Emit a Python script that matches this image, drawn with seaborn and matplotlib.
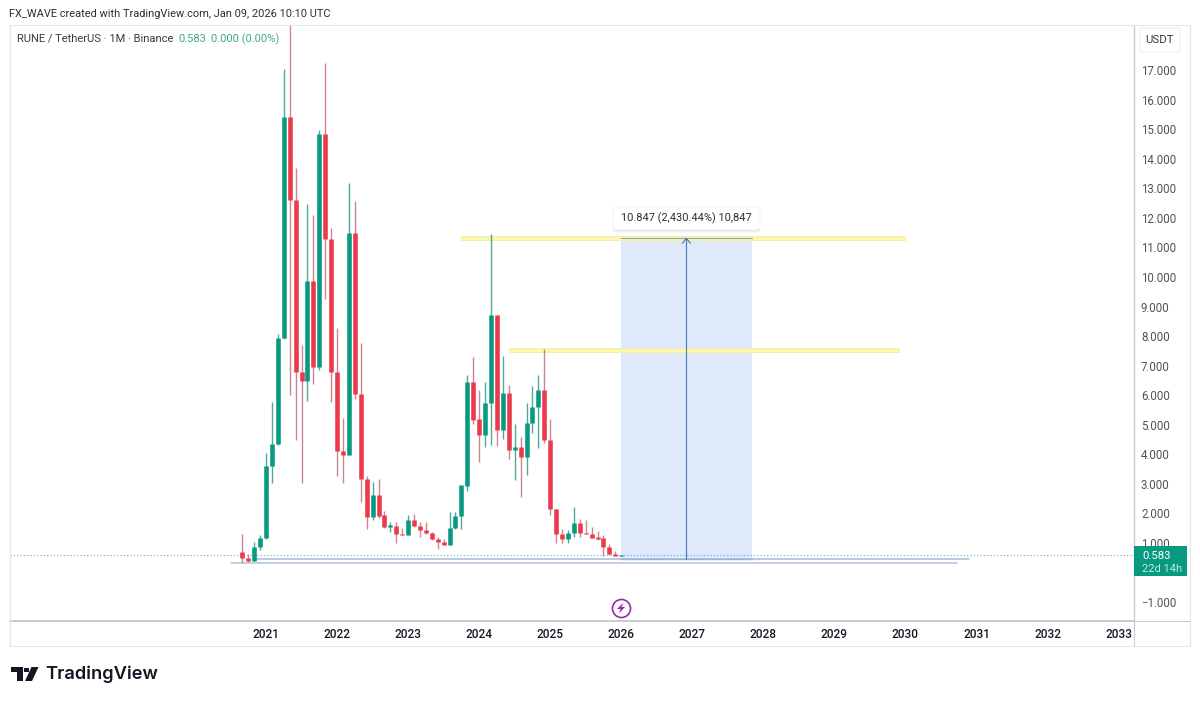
import matplotlib
matplotlib.use('Agg')
from matplotlib import pyplot as plt
from matplotlib.lines import Line2D
from matplotlib.patches import FancyBboxPatch, Polygon, Rectangle
import pandas as pd
import seaborn as sns

# monthly candles, Sep 2020 to Jan 2026
opens = [0.70, 0.48, 0.40, 0.85, 1.17, 3.60, 4.36, 7.94, 15.40, 12.60, 6.78, 6.48, 9.86, 6.96,
         14.84, 11.29, 6.80, 4.12, 3.99, 11.47, 6.04, 3.16, 1.87, 2.62, 1.94, 1.55, 1.58, 1.30,
         1.27, 1.78, 1.57, 1.44, 1.35, 1.14, 1.04, 0.94, 1.50, 1.92, 2.93, 6.45, 5.18, 4.64,
         5.74, 8.71, 4.82, 6.08, 4.15, 4.24, 3.91, 5.07, 5.61, 6.18, 4.48, 2.14, 1.30, 1.14,
         1.35, 1.66, 1.35, 1.32, 1.21, 1.16, 0.87, 0.64, 0.57]
closes = [0.48, 0.40, 0.85, 1.17, 3.60, 4.36, 7.94, 15.40, 12.60, 6.78, 6.48, 9.86, 6.96, 14.84,
          11.29, 6.80, 4.12, 3.99, 11.47, 6.04, 3.16, 1.87, 2.62, 1.91, 1.55, 1.60, 1.30, 1.28,
          1.78, 1.56, 1.44, 1.33, 1.12, 1.02, 0.94, 1.50, 1.92, 2.95, 6.45, 5.16, 4.64, 5.74,
          8.71, 4.82, 6.08, 4.15, 4.25, 3.91, 5.07, 5.61, 6.18, 4.48, 2.14, 1.29, 1.13, 1.34,
          1.66, 1.35, 1.31, 1.18, 1.13, 0.85, 0.63, 0.57, 0.583]
highs = [1.29, 0.63, 1.04, 1.28, 4.03, 5.78, 8.06, 17.04, 18.60, 13.70, 7.70, 12.47, 12.09, 14.97,
         17.25, 11.65, 8.26, 5.22, 13.19, 12.56, 7.78, 3.28, 3.05, 3.16, 2.09, 1.72, 1.72, 1.49,
         1.95, 1.98, 1.70, 1.71, 1.38, 1.21, 1.12, 2.04, 2.04, 2.97, 6.69, 7.30, 6.18, 6.44,
         11.46, 8.72, 7.34, 6.35, 5.03, 4.58, 5.73, 6.32, 6.68, 7.56, 5.19, 2.14, 1.46, 1.44,
         2.21, 1.80, 1.78, 1.53, 1.40, 1.27, 0.95, 0.72, 0.60]
lows = [0.33, 0.37, 0.38, 0.76, 1.15, 3.04, 4.33, 7.90, 6.00, 4.48, 3.02, 5.80, 6.38, 6.85,
        9.24, 5.76, 3.28, 3.04, 3.97, 5.86, 2.38, 1.46, 1.78, 1.83, 1.52, 1.38, 1.01, 1.27,
        1.26, 1.55, 1.19, 1.30, 1.10, 0.79, 0.93, 0.93, 1.46, 1.48, 2.77, 5.03, 3.75, 4.24,
        4.31, 4.29, 4.51, 3.83, 3.13, 2.57, 3.30, 4.72, 4.22, 4.39, 1.95, 0.99, 1.01, 0.99,
        1.21, 1.19, 1.30, 1.18, 1.10, 0.56, 0.60, 0.55, 0.56]

year_labels = ['2021', '2022', '2023', '2024', '2025', '2026', '2027',
               '2028', '2029', '2030', '2031', '2032', '2033']
year_months = [4, 16, 28, 40, 52, 64, 76, 88, 100, 112, 124, 136, 148]
price_ticks = [-1, 1, 2, 3, 4, 5, 6, 7, 8, 9, 10, 11, 12, 13, 14, 15, 16, 17]
last_price = 0.583
upper_level = 11.32
middle_level = 7.53
base_upper = 0.457
base_lower = 0.332
measure_low = 0.458
measure_high = 11.305

GREEN = '#089981'
RED = '#ec3a4c'
TEXT = '#50535e'
BORDER = '#e4e6ea'
AXIS = '#c9cbd0'
PURPLE = '#9c27b0'

rows_wick = []
rows_body = []
for i in range(len(opens)):
    direction = 'up' if closes[i] >= opens[i] else 'down'
    rows_wick.append([i, i, lows[i], direction])
    rows_wick.append([i, i, highs[i], direction])
    rows_body.append([i, i, opens[i], direction])
    rows_body.append([i, i, closes[i], direction])
df_wick = pd.DataFrame(rows_wick, columns=['candle', 'month', 'price', 'direction'])
df_body = pd.DataFrame(rows_body, columns=['candle', 'month', 'price', 'direction'])

sns.set_style('white')
plt.rcParams['font.family'] = ['Roboto', 'DejaVu Sans']


def px(x, y):
    return x / 1200, 1 - y / 702


fig = plt.figure(figsize=(12, 7.02), dpi=100, facecolor='white')
ax = fig.add_axes([10 / 1200, 1 - 621 / 702, 1124 / 1200, 595 / 702])

# measure box and drawings go under the candles
ax.add_patch(Rectangle((64, measure_low), 22, measure_high - measure_low, fc='#deeafc', ec='none', zorder=1))
ax.add_patch(Rectangle((36.9, upper_level - 0.06), 75, 0.12, fc='#fbf7ae', ec='#f5ee9a', lw=0.6, zorder=1.7))
ax.add_patch(Rectangle((45, middle_level - 0.06), 65.9, 0.12, fc='#fbf7ae', ec='#f5ee9a', lw=0.6, zorder=1.7))
ax.plot([64, 86], [measure_high, measure_high], color='#8f9fb5', lw=0.8, zorder=1.8)
ax.plot([64, 86], [measure_low, measure_low], color='#6f8fc9', lw=0.9, zorder=1.8)
ax.plot([75, 75], [measure_low, measure_high], color='#4a74b4', lw=0.8, zorder=2)
ax.plot([74.3, 75, 75.7], [measure_high - 0.17, measure_high, measure_high - 0.17], color='#4a74b4', lw=0.8, zorder=2)

ax.plot([2.1, 122.7], [base_upper, base_upper], color='#a8bbd8', lw=1.1, zorder=1.8)
ax.plot([-1.9, 120.7], [base_lower, base_lower], color='#b3c4de', lw=1.1, zorder=1.8)
ax.axhline(last_price, color='#5fb8a6', lw=0.8, ls=(0, (1, 2)), zorder=1.9)

sns.lineplot(data=df_wick, x='month', y='price', units='candle', hue='direction', estimator=None,
             sort=False, palette={'up': '#4fa898', 'down': '#cc8592'}, linewidth=1.0,
             solid_capstyle='butt', legend=False, ax=ax, zorder=3)
sns.lineplot(data=df_body, x='month', y='price', units='candle', hue='direction', estimator=None,
             sort=False, palette={'up': GREEN, 'down': RED}, linewidth=3.3,
             solid_capstyle='butt', legend=False, ax=ax, zorder=4)

ax.set_xlim(-39.24, 150.6)
ax.set_ylim(-1.64, 18.49)
ax.set_xlabel('')
ax.set_ylabel('')
ax.set_xticks(year_months)
ax.set_xticklabels(year_labels, fontsize=8.6, fontweight='medium', color='#131722')
ax.yaxis.tick_right()
ax.set_yticks(price_ticks)
ax.set_yticklabels([f'{v:.3f}'.replace('-', '\u2212') for v in price_ticks], fontsize=8.3, color=TEXT)
ax.tick_params(axis='x', length=0, pad=5)
ax.tick_params(axis='y', length=0, pad=5)
sns.despine(ax=ax, left=True, top=True, right=False, bottom=False)
ax.spines['right'].set_color(AXIS)
ax.spines['bottom'].set_color(AXIS)
ax.spines['right'].set_linewidth(1.0)
ax.spines['bottom'].set_linewidth(1.4)

# outer frame of the chart
for a, b, col in [((9.5, 25), (1190, 25), BORDER), ((9.5, 25), (9.5, 646), BORDER),
                  ((9.5, 646), (1190, 646), BORDER), ((1190, 25), (1190, 646), BORDER),
                  ((1134, 621), (1134, 646), AXIS), ((1134, 621), (1190, 621), AXIS)]:
    fig.add_artist(Line2D([px(*a)[0], px(*b)[0]], [px(*a)[1], px(*b)[1]], color=col, lw=0.8))

fig.text(*px(9, 14), 'FX_WAVE created with TradingView.com, Jan 09, 2026 10:10 UTC',
         fontsize=7.95, color='#2a2e39', va='center')
fig.text(*px(17, 39), 'RUNE / TetherUS \u00b7 1M \u00b7 Binance', fontsize=8.0, color='#363a45', va='center')
fig.text(*px(178, 39), '0.583', fontsize=8.0, color='#3ea892', va='center')
fig.text(*px(211, 39), '0.000 (0.00%)', fontsize=8.0, color='#3ea892', va='center')

# USDT button
fig.add_artist(FancyBboxPatch(px(1140, 52), 40 / 1200, 24 / 702, boxstyle='round,pad=0,rounding_size=0.003',
                              transform=fig.transFigure, fc='white', ec='#eceef1', lw=0.7))
fig.text(*px(1160, 40), 'USDT', fontsize=8.2, color='#363a45', va='center', ha='center')

# last price tag
fig.add_artist(Rectangle(px(1134, 576), 53 / 1200, 30 / 702, transform=fig.transFigure, fc=GREEN, ec='none', zorder=5))
fig.text(*px(1142, 556), '0.583', fontsize=8.2, color='white', va='center', zorder=6)
fig.text(*px(1142, 569), '22d 14h', fontsize=8.0, color='#c5e8e0', va='center', zorder=6)

# measure label with a soft shadow
for off, col in [(2.5, '#eef0f3'), (1.2, '#e4e6ea')]:
    fig.add_artist(FancyBboxPatch(px(613, 230 + off), 147 / 1200, 23 / 702,
                                  boxstyle='round,pad=0,rounding_size=0.004', transform=fig.transFigure,
                                  fc=col, ec='none', zorder=5))
fig.add_artist(FancyBboxPatch(px(613, 230), 147 / 1200, 23 / 702, boxstyle='round,pad=0,rounding_size=0.004',
                              transform=fig.transFigure, fc='white', ec='#eef0f3', lw=0.5, zorder=5))
fig.text(*px(686, 218.5), '10.847 (2,430.44%) 10,847', fontsize=7.9, color='#2a2e39',
         ha='center', va='center', zorder=6)

# dividend style marker under the axis
ax.plot([64], [-1.2], marker='o', ms=13, mfc='white', mec=PURPLE, mew=1.2, clip_on=False, zorder=5)
bolt = [(623.5, 602.5), (617, 609), (620.5, 609), (619, 613.5), (625, 607), (621.5, 607)]
fig.add_artist(Polygon([px(*p) for p in bolt], closed=True, transform=fig.transFigure, fc=PURPLE, ec='none', zorder=6))

# TradingView logo
logo = [[(11, 667), (22.7, 667), (22.7, 681), (17.3, 681), (17.3, 672), (11, 672)],
        [(31.5, 667), (38.5, 667), (32, 681), (25, 681)],
        [(24, 667.5), (28.5, 667.5), (28.5, 672), (24, 672)]]
for pts in logo:
    fig.add_artist(Polygon([px(*p) for p in pts], closed=True, transform=fig.transFigure, fc='#131722', ec='none'))
fig.text(*px(45, 674.5), 'TradingView', fontsize=13.2, fontweight='semibold', color='#131722',
         va='center', family=['Inter', 'DejaVu Sans'])

fig.savefig('out.png', dpi=100)
